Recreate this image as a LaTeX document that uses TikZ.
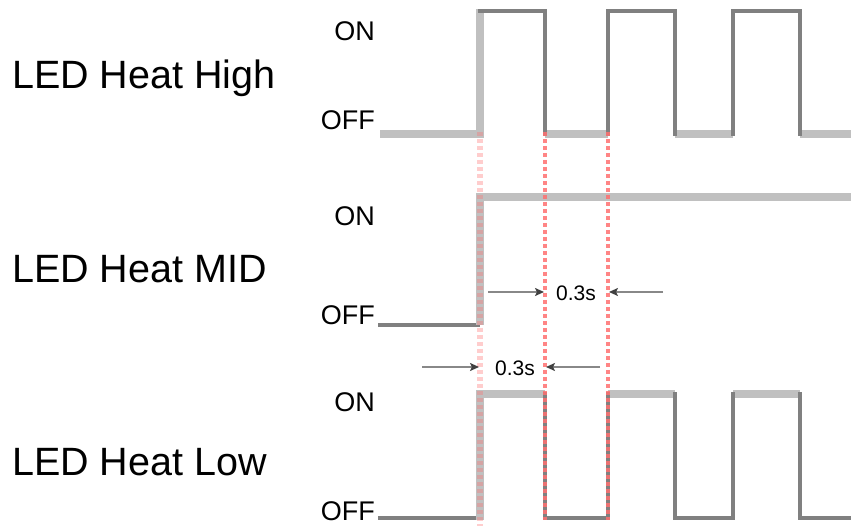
\documentclass[tikz,border=0pt]{standalone}
\usepackage{fontspec}
\setmainfont{Liberation Sans}
\usetikzlibrary{arrows.meta}
\definecolor{darkline}{HTML}{808080}
\definecolor{lightline}{HTML}{C0C0C0}
\definecolor{redline}{HTML}{FF7070}
\definecolor{arrline}{HTML}{888888}
\begin{document}
\begin{tikzpicture}[x=1pt,y=-1pt,
  big/.style={font=\fontsize{39.5}{40}\selectfont, anchor=base west, inner sep=0pt},
  lvl/.style={font=\fontsize{27}{27}\selectfont, anchor=east, inner sep=0pt},
  dur/.style={font=\fontsize{21}{21}\selectfont, inner sep=0pt},
  dk/.style={draw=darkline, line width=4pt, line cap=rect, line join=miter},
  lt/.style={draw=lightline, line width=8.5pt},
  mark1/.style={draw=redline, line width=4pt, dash pattern=on 4pt off 3pt, opacity=0.85},
  mark0/.style={draw=redline, line width=6pt, dash pattern=on 4pt off 3pt, opacity=0.35},
  dim/.style={draw=arrline, line width=2pt, arrows={-{Stealth[color=black!75,length=9pt,width=8pt,inset=2pt]}}}
]
\useasboundingbox (0,0) rectangle (851,526);
\fill[white] (0,0) rectangle (851,526);

% labels
\node[big] (lh) at (12,89) {LED Heat High};
\node[big] (lm) at (12,283) {LED Heat MID};
\node[big] (ll) at (12,475) {LED Heat Low};
\node[lvl] (hon) at (375,31) {ON};
\node[lvl] (hoff) at (375,120) {OFF};
\node[lvl] (mon) at (375,216) {ON};
\node[lvl] (moff) at (375,315) {OFF};
\node[lvl] (lon) at (375,402) {ON};
\node[lvl] (loff) at (375,511) {OFF};

% High waveform
\draw[lt] (380,134) -- (480,134);
\draw[lt] (480,138) -- (480,9);
\draw[lt] (545,134) -- (608,134);
\draw[lt] (675,134) -- (733,134);
\draw[lt] (800,134) -- (851,134);
\draw[dk] (480,11) -- (545,11) -- (545,134);
\draw[dk] (608,134) -- (608,11) -- (675,11) -- (675,134);
\draw[dk] (733,134) -- (733,11) -- (800,11) -- (800,134);

% MID waveform
\draw[dk] (380,325) -- (478,325);
\draw[lt] (480,325) -- (480,197) -- (851,197);

% Low waveform
\draw[dk] (380,518) -- (478,518);
\draw[lt] (480,520) -- (480,390);
\draw[lt] (480,394) -- (545,394);
\draw[lt] (608,394) -- (675,394);
\draw[lt] (733,394) -- (800,394);
\draw[dk] (545,394) -- (545,518) -- (608,518) -- (608,394);
\draw[dk] (675,394) -- (675,518) -- (733,518) -- (733,394);
\draw[dk] (800,394) -- (800,518) -- (851,518);

% red markers
\draw[mark0] (480,132) -- (480,526);
\draw[mark1] (545,132) -- (545,520);
\draw[mark1] (608,132) -- (608,520);

% durations
\node[dur] (d1) at (576,293) {0.3s};
\node[dur] (d2) at (515,368) {0.3s};
\coordinate (a1s) at (488,292);
\coordinate (a1e) at (544,292);
\coordinate (b1s) at (663,292);
\coordinate (b1e) at (609,292);
\coordinate (a2s) at (422,367);
\coordinate (a2e) at (479,367);
\coordinate (b2s) at (600,367);
\coordinate (b2e) at (546,367);
\draw[dim] (a1s) -- (a1e);
\draw[dim] (b1s) -- (b1e);
\draw[dim] (a2s) -- (a2e);
\draw[dim] (b2s) -- (b2e);
\end{tikzpicture}
\end{document}
